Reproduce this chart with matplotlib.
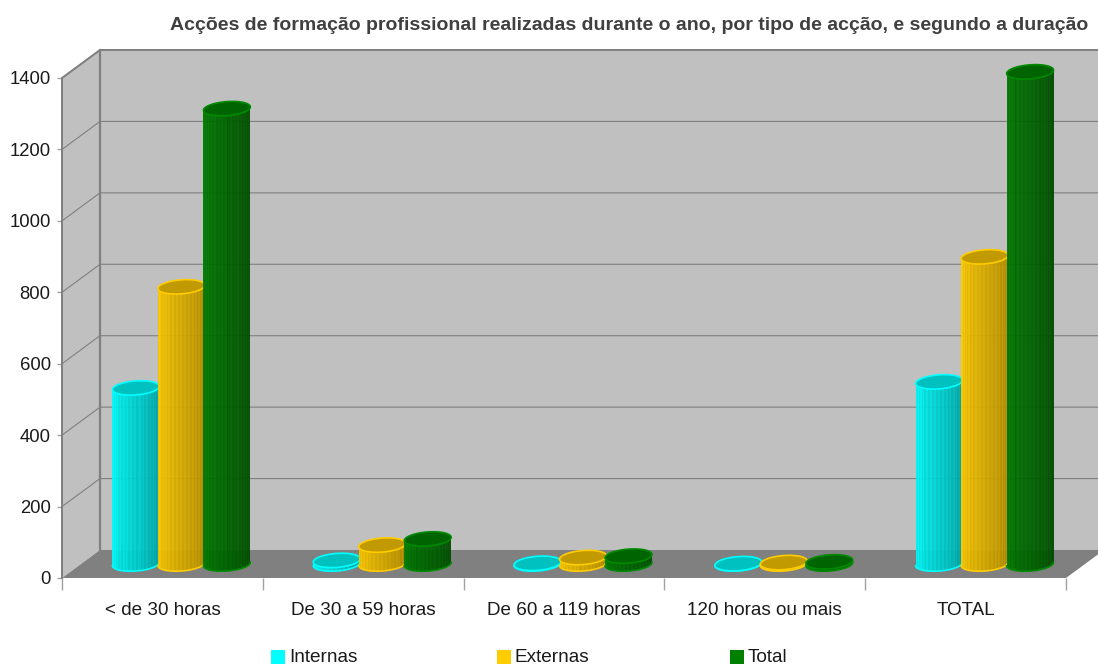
import numpy as np
import matplotlib
matplotlib.use('Agg')
import matplotlib.pyplot as plt
from matplotlib.patches import Rectangle
from matplotlib.colors import to_rgb

plt.rcParams['font.family'] = ['Liberation Sans', 'DejaVu Sans']

titulo = 'Acções de formação profissional realizadas durante o ano, por tipo de acção, e segundo a duração'
categorias = ['< de 30 horas', 'De 30 a 59 horas', 'De 60 a 119 horas', '120 horas ou mais', 'TOTAL']
internas = [493, 10, 2, 1, 510]
externas = [776, 53, 18, 4, 860]
total = [1275, 70, 22, 6, 1378]
nomes = ['Internas', 'Externas', 'Total']
y_ticks = [0, 200, 400, 600, 800, 1000, 1200, 1400]

# cor clara, cor escura, tampa, contorno
cores = [('#00ffff', '#009a9a', '#00c0c0', '#00ffff'),
         ('#ffcc00', '#a88400', '#c09a00', '#ffcc00'),
         ('#007c00', '#004800', '#006400', '#008a00')]
cor_legenda = ['#00ffff', '#ffcc00', '#008000']

W, H = 1098, 668
fig = plt.figure(figsize=(W/100, H/100), dpi=100)
ax = fig.add_axes([62/W, (H-578)/H, 1004/W, 500/H])
ax.set_xlim(0, 5)
ax.set_ylim(0, 1400)

# pixel -> unidades dos dados
px = 5/1004
py = 1400/500
dx = 38*px
dy = 28*py

cinza = '#808080'
ax.fill([dx, 5+dx, 5+dx, dx], [dy, dy, 1400+dy, 1400+dy], color='#c0c0c0', lw=0, clip_on=False, zorder=1)
ax.fill([0, dx, dx, 0], [0, dy, 1400+dy, 1400], color='#c0c0c0', lw=0, clip_on=False, zorder=1)
ax.fill([0, 5, 5+dx, dx], [0, 0, dy, dy], color=cinza, lw=0, clip_on=False, zorder=1.5)

for v in y_ticks[1:]:
    ax.plot([0, dx, 5+dx], [v, v+dy, v+dy], color=cinza, lw=0.8, clip_on=False, zorder=2)
ax.plot([0, 0, dx, 5+dx], [0, 1400, 1400+dy, 1400+dy], color=cinza, lw=1.4, clip_on=False, zorder=2)
ax.plot([dx, dx], [dy, 1400+dy], color=cinza, lw=1.6, clip_on=False, zorder=2)

# cilindros
a, b, ang = 23.5, 7, np.radians(4.5)
t_inf = np.linspace(np.pi, 2*np.pi, 37)
t_all = np.linspace(0, 2*np.pi, 80)

def elipse(t):
    return (a*np.cos(t)*np.cos(ang) - b*np.sin(t)*np.sin(ang),
            a*np.cos(t)*np.sin(ang) + b*np.sin(t)*np.cos(ang))

z = 3
for s, valores in enumerate([internas, externas, total]):
    claro, escuro, tampa, contorno = cores[s]
    c1, c2 = np.array(to_rgb(claro)), np.array(to_rgb(escuro))
    for i, v in enumerate(valores):
        cx = i + 0.5 + dx/2 + (s-1)*45.5*px
        base = dy/2
        ex, ey = elipse(t_inf)
        for k in range(len(t_inf)-1):
            f = k/(len(t_inf)-2)
            f = min(1, max(0, f + 0.06*(-1)**k))
            cor = c1*(1-f) + c2*f
            ax.bar(cx + ex[k]*px, v, width=(ex[k+1]-ex[k])*px*1.03, bottom=base + ey[k]*py,
                   align='edge', color=cor, lw=0, alpha=0.95, clip_on=False, zorder=z)
        ax.plot(cx + ex*px, base + ey*py, color=contorno, lw=1.2, clip_on=False, zorder=z+0.1)
        tx, ty = elipse(t_all)
        ax.fill(cx + tx*px, base + v + ty*py, facecolor=tampa, edgecolor=contorno, lw=1.2,
                clip_on=False, zorder=z+0.2)
        z += 1

for lado in ax.spines.values():
    lado.set_visible(False)
ax.patch.set_visible(False)

ax.set_yticks(y_ticks)
ax.set_xticks(range(6))
ax.set_xticklabels([])
ax.set_xticks(np.arange(5)+0.5, labels=categorias, minor=True)
ax.tick_params(axis='y', length=3.6, width=1, color='#a0a0a0', pad=4.5, labelsize=13.3, labelcolor='#1a1a1a')
ax.tick_params(axis='x', which='major', length=8.6, width=1, color='#a0a0a0')
ax.tick_params(axis='x', which='minor', length=0, pad=17.5, labelsize=13.6, labelcolor='#1a1a1a')

fig.text(1088/W, (H-25)/H, titulo, ha='right', va='center', fontsize=14, fontweight='bold', color='#404040')

# legenda
leg_x = [271, 497, 730]
for x, nome, c in zip(leg_x, nomes, cor_legenda):
    fig.add_artist(Rectangle((x/W, (H-664)/H), 14/W, 14/H, color=c, lw=0, transform=fig.transFigure))
    fig.text((x+18)/W, (H-657)/H, nome, ha='left', va='center', fontsize=13.7, color='#1a1a1a')

fig.savefig('out.png', dpi=100)
